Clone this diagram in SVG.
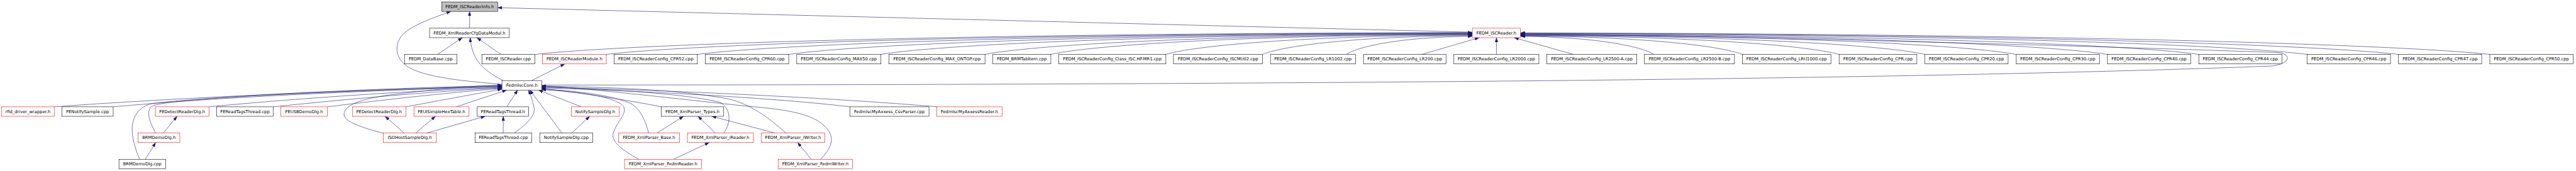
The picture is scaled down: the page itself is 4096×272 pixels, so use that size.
<svg xmlns="http://www.w3.org/2000/svg" width="4096" height="272" viewBox="0 0 4096 272">
<style>
.nd rect{fill:#ffffff;stroke:#000000;stroke-width:1.1}
.nd.r rect{stroke:#ff0000}
.nd.g rect{fill:#bfbfbf}
.nd text{font-family:"DejaVu Sans","Liberation Sans",sans-serif;font-size:12.6px;text-anchor:middle;fill:#000000}
#edges path{fill:none;stroke:#191970;stroke-width:1.1;marker-end:url(#ah)}
</style>
<defs>
<marker id="ah" markerUnits="userSpaceOnUse" markerWidth="13" markerHeight="9" refX="13" refY="4.5" orient="auto">
<path d="M0,0 L13,4.5 L0,9 z" fill="#191970" stroke="#191970" stroke-width="0.5"/>
</marker>
</defs>
<rect x="0" y="0" width="4096" height="272" fill="#ffffff"/>
<g transform="scale(0.539)">
<g id="edges">
<path d="M1385.3,83.2 L1385.3,33.7"/>
<path d="M4343.3,95 L1468,22.7"/>
<path d="M1480.8,249 C1380,240 1290,232 1230,210 C1160,185 1160,130 1190,100 C1220,72 1280,52 1330,33.7"/>
<path d="M1290.6,160.7 L1364,111.2"/>
<path d="M1478.4,160.7 L1407,111.2"/>
<path d="M1484.5,237.8 C1430,210 1392,180 1387,111.2"/>
<path d="M1568.2,237.8 L1666,188.7"/>
<path d="M1578,160.7 C1799.2,134.8 2684,99.2 4343.3,96"/>
<path d="M1788.6,160.7 C1992.9,135.2 2810.3,100.2 4343.3,97"/>
<path d="M2057.3,160.7 C2240.3,135.6 2971.7,101.1 4343.3,98"/>
<path d="M2326.7,160.7 C2487.8,136 3133.1,102.1 4343.3,99"/>
<path d="M2598.8,160.7 C2738.5,136.4 3296.6,103 4343.3,100"/>
<path d="M2905.7,160.7 C3020.5,136.8 3480.5,104 4343.3,101"/>
<path d="M3100,160.7 C3199.4,137.2 3597.2,104.9 4343.3,102"/>
<path d="M3439.4,160.7 C3511.7,137.8 3800.8,106.4 4343.3,103.5"/>
<path d="M3724.7,160.7 C3774.2,138.4 3972,107.8 4343.3,105"/>
<path d="M3971.8,160.7 C4001.7,139.2 4120.4,109.7 4343.3,107"/>
<path d="M4194,160.7 L4363.7,111.2"/>
<path d="M4414.5,160.7 L4414.5,111.2"/>
<path d="M4642.7,160.7 L4467,111.2"/>
<path d="M4879,160.7 C4847.5,139.2 4721.6,109.7 4485.5,107"/>
<path d="M5140,160.7 C5087.6,138.8 4878.2,108.7 4485.5,106"/>
<path d="M5425.3,160.7 C5349.8,138.4 5049.2,107.8 4485.5,105"/>
<path d="M5678.6,160.7 C5583.5,138 5201.6,106.8 4485.5,104"/>
<path d="M5948,160.7 C5831,137.6 5363,105.9 4485.5,103"/>
<path d="M6217,160.7 C6078.5,137.2 5524.4,104.9 4485.5,102"/>
<path d="M6486.5,160.7 C6326.4,136.8 5686.1,104 4485.5,101"/>
<path d="M6806,160.7 C6620.4,136 5877.8,102.1 4485.5,99"/>
<path d="M7075.7,160.7 C6868.5,135.6 6039.6,101.1 4485.5,98"/>
<path d="M7345,160.7 C7116.2,135.2 6201.2,100.2 4485.5,97"/>
<path d="M1598,251 C3500,250 5500,240 6700,195 C6760,188 6760,160 6720,155 C6000,130 5000,105 4485.5,100"/>
<path d="M160,315.2 C500,290 1100,262 1480.8,255"/>
<path d="M333.9,315.2 C700,282 1200,263 1480.8,256.5"/>
<path d="M616.3,315.2 C900,288 1250,266 1480.8,258"/>
<path d="M806.3,315.2 C1050,290 1300,268 1480.8,259.5"/>
<path d="M965.9,315.2 C1150,292 1350,271 1480.8,261"/>
<path d="M1197.3,315.2 C1300,296 1420,274 1480.8,263"/>
<path d="M412,470 C395,430 385,390 392,360 C400,330 420,312 450,305 C700,278 1200,258 1480.8,252.5"/>
<path d="M459,392.7 C445,365 430,335 445,315 C470,295 800,275 1480.8,253.8"/>
<path d="M1130.8,393 C1080,380 1010,360 1015,335 C1020,305 1080,290 1150,280 C1300,262 1400,253 1480.8,251"/>
<path d="M1345.7,315.2 L1494.7,265.8"/>
<path d="M1494.7,315.2 L1527.3,265.8"/>
<path d="M1517,392.7 C1555,365 1582,340 1575,315 C1570,295 1566,282 1559,265.8"/>
<path d="M1658,392.7 L1563,265.8"/>
<path d="M1715,315.2 L1588.6,265.8"/>
<path d="M1951.2,315.2 C1850,295 1700,272 1598,261"/>
<path d="M2507.1,315.2 C2300,290 1900,268 1598,259.5"/>
<path d="M2763.7,315.2 C2500,292 2000,266 1598,257.5"/>
<path d="M1913.7,392.7 C1905,360 1890,320 1860,305 C1800,280 1700,268 1598,263"/>
<path d="M1884.5,470 C1830,440 1800,415 1810,390 C1820,360 1850,335 1840,315 C1820,285 1700,270 1598,264.5"/>
<path d="M2134.9,392.7 C2155,365 2160,325 2125,302 C2000,272 1750,262 1598,256"/>
<path d="M2318.6,392.7 C2270,350 2220,310 2150,292 C2000,264 1800,257 1598,254.5"/>
<path d="M2420.6,470 C2450,440 2465,410 2440,380 C2400,330 2300,322 2200,313 C2000,292 1750,262 1598,253"/>
<path d="M481.6,392.7 L522.4,343.2"/>
<path d="M428.6,470 L459.2,420.7"/>
<path d="M1192.4,392.7 L1136,343.2"/>
<path d="M1226,392.7 L1284.5,343.2"/>
<path d="M1258.6,392.7 L1431.4,343.2"/>
<path d="M1484.5,392.7 L1484.5,343.2"/>
<path d="M1686.5,392.7 L1739.6,343.2"/>
<path d="M1938,392.7 L2016.5,343.2"/>
<path d="M2110.4,392.7 L2059.4,343.2"/>
<path d="M2286,392.7 L2100,343.2"/>
<path d="M1987,470 L2092,420.7"/>
<path d="M2393,470 L2353,420.7"/>
</g>
<g id="n1" class="nd g"><rect x="1303" y="5.7" width="165" height="28"/><text x="1385.5" y="23.9">FEDM_ISCReaderInfo.h</text></g>
<g id="n2" class="nd"><rect x="1267.3" y="83.2" width="235.1" height="28"/><text x="1384.85" y="101.4">FEDM_XmlReaderCfgDataModul.h</text></g>
<g id="n3" class="nd r"><rect x="4343.3" y="83.2" width="142.2" height="28"/><text x="4414.4" y="101.4">FEDM_ISCReader.h</text></g>
<g id="n4" class="nd"><rect x="1193.3" y="160.7" width="154.5" height="28"/><text x="1270.55" y="178.9">FEDM_DataBase.cpp</text></g>
<g id="n5" class="nd"><rect x="1421.6" y="160.7" width="156.4" height="28"/><text x="1499.8" y="178.9">FEDM_ISCReader.cpp</text></g>
<g id="n6" class="nd r"><rect x="1600.4" y="160.7" width="188.2" height="28"/><text x="1694.5" y="178.9">FEDM_ISCReaderModule.h</text></g>
<g id="n7" class="nd"><rect x="1811.8" y="160.7" width="245.5" height="28"/><text x="1934.55" y="178.9">FEDM_ISCReaderConfig_CPR52.cpp</text></g>
<g id="n8" class="nd"><rect x="2081" y="160.7" width="245.7" height="28"/><text x="2203.85" y="178.9">FEDM_ISCReaderConfig_CPR60.cpp</text></g>
<g id="n9" class="nd"><rect x="2350.4" y="160.7" width="248.4" height="28"/><text x="2474.6" y="178.9">FEDM_ISCReaderConfig_MAX50.cpp</text></g>
<g id="n10" class="nd"><rect x="2622.4" y="160.7" width="283.3" height="28"/><text x="2764.05" y="178.9">FEDM_ISCReaderConfig_MAX_ONTOP.cpp</text></g>
<g id="n11" class="nd"><rect x="2929" y="160.7" width="171" height="28"/><text x="3014.5" y="178.9">FEDM_BRMTabItem.cpp</text></g>
<g id="n12" class="nd"><rect x="3123.3" y="160.7" width="316.1" height="28"/><text x="3281.35" y="178.9">FEDM_ISCReaderConfig_Class_ISC.HF.MR1.cpp</text></g>
<g id="n13" class="nd"><rect x="3461.8" y="160.7" width="262.9" height="28"/><text x="3593.25" y="178.9">FEDM_ISCReaderConfig_ISCMU02.cpp</text></g>
<g id="n14" class="nd"><rect x="3748" y="160.7" width="250.8" height="28"/><text x="3873.4" y="178.9">FEDM_ISCReaderConfig_LR1002.cpp</text></g>
<g id="n15" class="nd"><rect x="4022.4" y="160.7" width="243.3" height="28"/><text x="4144.05" y="178.9">FEDM_ISCReaderConfig_LR200.cpp</text></g>
<g id="n16" class="nd"><rect x="4289" y="160.7" width="250.8" height="28"/><text x="4414.4" y="178.9">FEDM_ISCReaderConfig_LR2000.cpp</text></g>
<g id="n17" class="nd"><rect x="4563" y="160.7" width="265.8" height="28"/><text x="4695.9" y="178.9">FEDM_ISCReaderConfig_LR2500-A.cpp</text></g>
<g id="n18" class="nd"><rect x="4851.2" y="160.7" width="265.5" height="28"/><text x="4983.95" y="178.9">FEDM_ISCReaderConfig_LR2500-B.cpp</text></g>
<g id="n19" class="nd"><rect x="5140" y="160.7" width="261.2" height="28"/><text x="5270.6" y="178.9">FEDM_ISCReaderConfig_LRU1000.cpp</text></g>
<g id="n20" class="nd"><rect x="5425.3" y="160.7" width="229.4" height="28"/><text x="5540" y="178.9">FEDM_ISCReaderConfig_CPR.cpp</text></g>
<g id="n21" class="nd"><rect x="5678.6" y="160.7" width="245.3" height="28"/><text x="5801.25" y="178.9">FEDM_ISCReaderConfig_CPR20.cpp</text></g>
<g id="n22" class="nd"><rect x="5948" y="160.7" width="245.3" height="28"/><text x="6070.65" y="178.9">FEDM_ISCReaderConfig_CPR30.cpp</text></g>
<g id="n23" class="nd"><rect x="6217" y="160.7" width="245.4" height="28"/><text x="6339.7" y="178.9">FEDM_ISCReaderConfig_CPR40.cpp</text></g>
<g id="n24" class="nd"><rect x="6486.5" y="160.7" width="245.3" height="28"/><text x="6609.15" y="178.9">FEDM_ISCReaderConfig_CPR44.cpp</text></g>
<g id="n25" class="nd"><rect x="6806" y="160.7" width="246" height="28"/><text x="6929" y="178.9">FEDM_ISCReaderConfig_CPR46.cpp</text></g>
<g id="n26" class="nd"><rect x="7075.7" y="160.7" width="245.3" height="28"/><text x="7198.35" y="178.9">FEDM_ISCReaderConfig_CPR47.cpp</text></g>
<g id="n27" class="nd"><rect x="7345" y="160.7" width="245.6" height="28"/><text x="7467.8" y="178.9">FEDM_ISCReaderConfig_CPR50.cpp</text></g>
<g id="n28" class="nd"><rect x="1480.8" y="237.8" width="117.2" height="28"/><text x="1539.4" y="256">FedmIscCore.h</text></g>
<g id="n29" class="nd r"><rect x="4.9" y="315.2" width="155.1" height="28"/><text x="82.45" y="333.4">rfid_driver_wrapper.h</text></g>
<g id="n30" class="nd"><rect x="182.9" y="315.2" width="151" height="28"/><text x="258.4" y="333.4">FENotifySample.cpp</text></g>
<g id="n31" class="nd r"><rect x="458.4" y="315.2" width="157.9" height="28"/><text x="537.35" y="333.4">FEDetectReaderDlg.h</text></g>
<g id="n32" class="nd"><rect x="639" y="315.2" width="167.3" height="28"/><text x="722.65" y="333.4">FEReadTagsThread.cpp</text></g>
<g id="n33" class="nd r"><rect x="828.4" y="315.2" width="137.5" height="28"/><text x="897.15" y="333.4">FEUSBDemoDlg.h</text></g>
<g id="n34" class="nd r"><rect x="1039.4" y="315.2" width="157.9" height="28"/><text x="1118.35" y="333.4">FEDetectReaderDlg.h</text></g>
<g id="n35" class="nd r"><rect x="1221" y="315.2" width="162.7" height="28"/><text x="1302.35" y="333.4">FEUISimpleHexTable.h</text></g>
<g id="n36" class="nd"><rect x="1407.8" y="315.2" width="151.8" height="28"/><text x="1483.7" y="333.4">FEReadTagsThread.h</text></g>
<g id="n37" class="nd r"><rect x="1685.3" y="315.2" width="141.2" height="28"/><text x="1755.9" y="333.4">NotifySampleDlg.h</text></g>
<g id="n38" class="nd"><rect x="1951.2" y="315.2" width="182.9" height="28"/><text x="2042.65" y="333.4">FEDM_XmlParser_Types.h</text></g>
<g id="n39" class="nd"><rect x="2507.1" y="315.2" width="233.3" height="28"/><text x="2623.75" y="333.4">FedmIscMyAxxess_CsvParser.cpp</text></g>
<g id="n40" class="nd r"><rect x="2763.7" y="315.2" width="192.6" height="28"/><text x="2860" y="333.4">FedmIscMyAxxessReader.h</text></g>
<g id="n41" class="nd r"><rect x="407.3" y="392.7" width="123.3" height="28"/><text x="468.95" y="410.9">BRMDemoDlg.h</text></g>
<g id="n42" class="nd r"><rect x="1130.8" y="392.7" width="156.5" height="28"/><text x="1209.05" y="410.9">ISOHostSampleDlg.h</text></g>
<g id="n43" class="nd"><rect x="1401.6" y="392.7" width="166.6" height="28"/><text x="1484.9" y="410.9">FEReadTagsThread.cpp</text></g>
<g id="n44" class="nd"><rect x="1592.7" y="392.7" width="155.9" height="28"/><text x="1670.65" y="410.9">NotifySampleDlg.cpp</text></g>
<g id="n45" class="nd r"><rect x="1824.5" y="392.7" width="179.8" height="28"/><text x="1914.4" y="410.9">FEDM_XmlParser_Base.h</text></g>
<g id="n46" class="nd r"><rect x="2028" y="392.7" width="194.7" height="28"/><text x="2125.35" y="410.9">FEDM_XmlParser_IReader.h</text></g>
<g id="n47" class="nd r"><rect x="2246.3" y="392.7" width="186.6" height="28"/><text x="2339.6" y="410.9">FEDM_XmlParser_IWriter.h</text></g>
<g id="n48" class="nd"><rect x="351" y="470" width="137.6" height="28"/><text x="419.8" y="488.2">BRMDemoDlg.cpp</text></g>
<g id="n49" class="nd r"><rect x="1842.4" y="470" width="227.2" height="28"/><text x="1956" y="488.2">FEDM_XmlParser_FedmReader.h</text></g>
<g id="n50" class="nd r"><rect x="2296.1" y="470" width="218.4" height="28"/><text x="2405.3" y="488.2">FEDM_XmlParser_FedmWriter.h</text></g>
</g>
</svg>
